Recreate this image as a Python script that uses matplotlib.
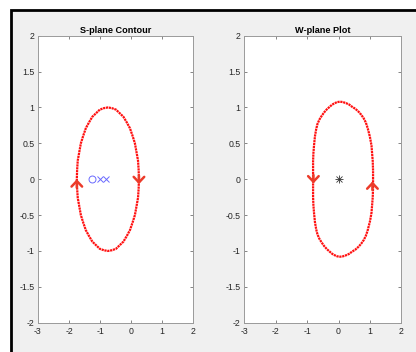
import matplotlib
matplotlib.use("Agg")
import matplotlib.pyplot as plt
from matplotlib.patches import Rectangle

plt.rcParams['font.family'] = ['Liberation Sans', 'DejaVu Sans']
plt.rcParams['axes.unicode_minus'] = False

# s-plane contour, upper half (right -> top -> left);
# the lower half is its mirror image
s_x_upper = [0.25, 0.24, 0.22, 0.17, 0.12, 0.04, -0.04, -0.14, -0.25, -0.37, -0.49, -0.62,
             -0.75, -0.88, -1.01, -1.13, -1.25, -1.36, -1.46, -1.54, -1.62, -1.67, -1.72,
             -1.74, -1.75]
s_y_upper = [0.0, 0.13, 0.26, 0.38, 0.50, 0.61, 0.71, 0.79, 0.87, 0.92, 0.97, 0.99,
             1.00, 0.99, 0.97, 0.92, 0.87, 0.79, 0.71, 0.61, 0.50, 0.38, 0.26, 0.13, 0.0]
zero_x = [-1.25]
pole_x = [-1.0, -0.8]
s_arrow_x = [-1.75, 0.25]
s_arrow_y = [0.0, -0.07]
s_arrow_dir = [1, -1]

# w-plane image of the contour, upper half (right -> top -> left)
w_x_upper = [1.10, 1.10, 1.09, 1.07, 1.05, 1.00, 0.93, 0.87, 0.80, 0.72, 0.64, 0.54, 0.43,
             0.34, 0.24, 0.14, 0.05, -0.04, -0.12, -0.20, -0.28, -0.37, -0.46, -0.54, -0.61,
             -0.67, -0.71, -0.75, -0.78, -0.80, -0.81, -0.81, -0.81]
w_y_upper = [0.0, 0.12, 0.25, 0.36, 0.47, 0.59, 0.71, 0.79, 0.85, 0.90, 0.94, 0.98, 1.01,
             1.04, 1.06, 1.075, 1.08, 1.075, 1.06, 1.04, 1.01, 0.975, 0.93, 0.88, 0.83,
             0.77, 0.70, 0.60, 0.47, 0.36, 0.25, 0.12, 0.0]
w_arrow_x = [-0.80, 1.08]
w_arrow_y = [-0.06, -0.03]
w_arrow_dir = [-1, 1]
origin_x = [0.0]
origin_y = [0.0]

x_ticks = [-3, -2, -1, 0, 1, 2]
y_ticks = [-2, -1.5, -1, -0.5, 0, 0.5, 1, 1.5, 2]
y_labels = ['-2', '-1.5', '-1', '-0.5', '0', '0.5', '1', '1.5', '2']

bg = '#f0f0f0'
red = '#ff1010'
arrow_red = '#ec3b2a'


def closed(xu, yu):
    # upper half followed by the mirrored lower half
    return xu + xu[-2::-1], yu + [-v for v in yu[-2::-1]]


fig = plt.figure(figsize=(4.16, 3.52), dpi=100, facecolor='white')
# matlab window frame
fig.patches.append(Rectangle((11 / 416, -0.05), 1.0, 0.05 + 1 - 10 / 352,
                             transform=fig.transFigure, facecolor=bg,
                             edgecolor='black', linewidth=2, zorder=-5))


def style_axes(ax, title):
    ax.set_facecolor('white')
    ax.set_xlim(-3, 2)
    ax.set_ylim(-2, 2)
    ax.set_xticks(x_ticks)
    ax.set_xticklabels([str(t) for t in x_ticks])
    ax.set_yticks(y_ticks)
    ax.set_yticklabels(y_labels)
    ax.tick_params(direction='in', length=2.5, width=0.5, color='#555555',
                   labelsize=6.3, labelcolor='#262626', top=True, right=True)
    ax.tick_params(axis='y', pad=2.6)
    ax.tick_params(axis='x', pad=3.2)
    for sp in ax.spines.values():
        sp.set_color('#9a9a9a')
        sp.set_linewidth(0.7)
    ax.set_title(title, fontsize=6.6, fontweight='bold', pad=2)


def draw_arrows(ax, xs, ys, dirs):
    for x, y, d in zip(xs, ys, dirs):
        ax.annotate('', xy=(x, y), xytext=(x, y - d * 0.12),
                    arrowprops=dict(arrowstyle='->,head_length=0.4,head_width=0.38',
                                    color=arrow_red, lw=1.8, mutation_scale=10,
                                    shrinkA=0, shrinkB=0))


ax1 = fig.add_axes([0.0913, 0.0832, 0.3734, 0.8154])
sx, sy = closed(s_x_upper, s_y_upper)
ax1.plot(sx, sy, color=red, lw=1.6, linestyle=(0, (1.0, 0.3)))
ax1.plot(zero_x, [0.0] * len(zero_x), 'o', mfc='none', mec='#6a6aff', ms=5, mew=0.7)
ax1.plot(pole_x, [0.0] * len(pole_x), 'x', color='#6a6aff', ms=5, mew=0.7)
draw_arrows(ax1, s_arrow_x, s_arrow_y, s_arrow_dir)
style_axes(ax1, 'S-plane Contour')

ax2 = fig.add_axes([0.5873, 0.0832, 0.3774, 0.8154])
wx, wy = closed(w_x_upper, w_y_upper)
ax2.plot(wx, wy, color=red, lw=1.6, linestyle=(0, (1.0, 0.3)))
ax2.plot(origin_x, origin_y, '+', color='#333333', ms=6, mew=0.6)
ax2.plot(origin_x, origin_y, 'x', color='#333333', ms=4.5, mew=0.6)
draw_arrows(ax2, w_arrow_x, w_arrow_y, w_arrow_dir)
style_axes(ax2, 'W-plane Plot')

fig.savefig('out.png', dpi=100, facecolor=fig.get_facecolor())
